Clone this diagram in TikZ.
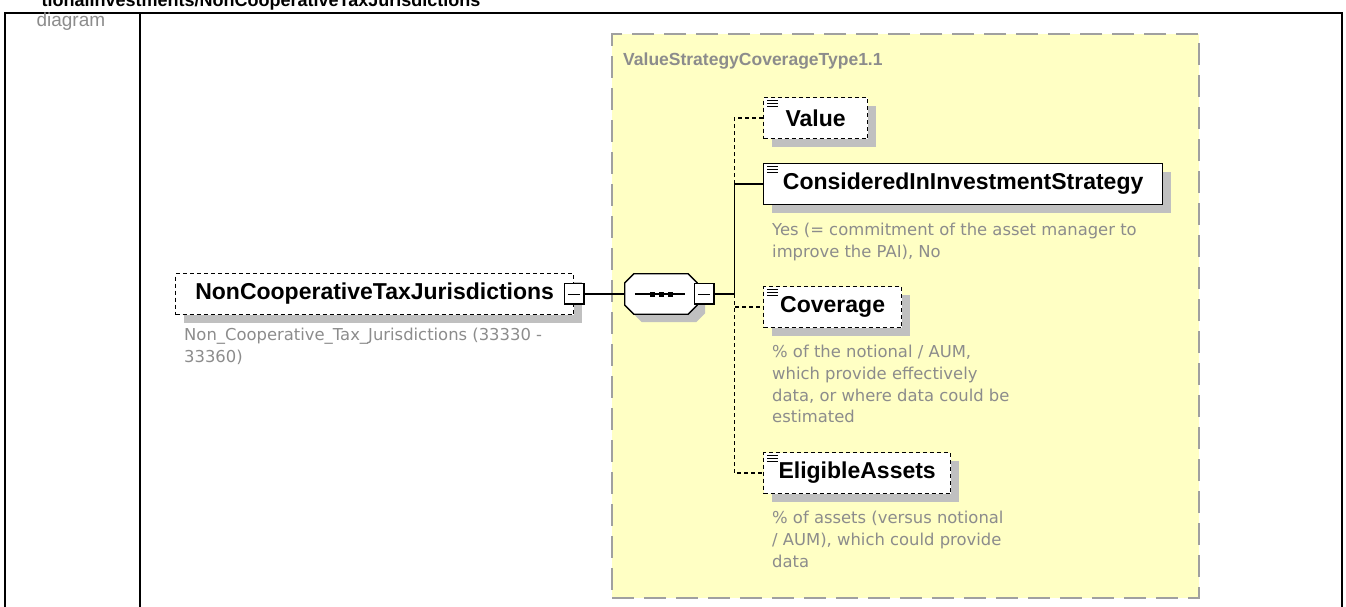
\documentclass[tikz,border=0pt]{standalone}
\usepackage{fontspec}
\setmainfont{Liberation Sans}
\newfontfamily\descfont{DejaVu Sans}
\usetikzlibrary{shadows,calc}

\definecolor{typeyellow}{RGB}{255,255,196}
\definecolor{typeborder}{RGB}{160,160,160}
\definecolor{shadowgray}{RGB}{192,192,192}
\definecolor{notegray}{RGB}{140,140,140}

% octagon of the sequence compositor, #2 = offset (for the shadow)
\newcommand{\octpath}[2]{($(#1.north west)+(0,9)+(#2)$) -- ($(#1.north west)+(9,0)+(#2)$)
  -- ($(#1.north east)+(-9,0)+(#2)$) -- ($(#1.north east)+(0,9)+(#2)$)
  -- ($(#1.south east)+(0,-9)+(#2)$) -- ($(#1.south east)+(-9,0)+(#2)$)
  -- ($(#1.south west)+(9,0)+(#2)$) -- ($(#1.south west)+(0,-9)+(#2)$) -- cycle}

\begin{document}
\begin{tikzpicture}[x=1pt,y=-1pt,
elem/.style={
rectangle,draw,fill=white,line width=1.3pt,
anchor=west,inner xsep=0pt,
minimum height=41pt,
font=\fontsize{23}{27}\selectfont\bfseries,
drop shadow={shadow xshift=8pt,shadow yshift=-8pt,fill=shadowgray,opacity=1}
},
optional/.style={dash pattern=on 4pt off 3pt},
desc/.style={
anchor=north west,align=left,inner sep=0pt,
text=notegray,
font=\descfont\fontsize{16.4}{21.7}\selectfont
},
btn/.style={
rectangle,draw,fill=white,line width=1pt,
inner sep=0pt,minimum width=20pt,minimum height=21pt
},
seqbox/.style={rectangle,inner sep=0pt,minimum width=72pt,minimum height=40pt},
conn/.style={line width=1.3pt},
optconn/.style={conn,dash pattern=on 4pt off 3pt}
]
\useasboundingbox (0,0) rectangle (1346,606);

% =======================
% TABLE FRAME
% =======================

\node[anchor=base west,font=\fontsize{18}{22}\selectfont\bfseries] (title) at (38,6)
{tionalInvestments/NonCooperativeTaxJurisdictions};

\draw[line width=2pt] (5,13) rectangle (1342,640);
\draw[line width=2pt] (140,13) -- (140,640);

\node[anchor=base west,text=notegray,font=\fontsize{19}{23}\selectfont] (diaglabel) at (33,26) {diagram};

% =======================
% COMPLEX TYPE
% =======================

\node[anchor=north west,draw=typeborder,fill=typeyellow,line width=2pt,
dash pattern=on 22pt off 10pt,minimum width=587pt,minimum height=564pt] (typebox) at (611,33) {};

\node[anchor=west,inner sep=0pt,text=notegray,font=\fontsize{17.5}{21}\selectfont\bfseries] (typename) at (623,61)
{ValueStrategyCoverageType1.1};

% =======================
% ROOT ELEMENT
% =======================

\node[elem,optional,minimum width=398pt] (root) at (175,294) {NonCooperativeTaxJurisdictions};
\node[btn] (rootbtn) at (root.east) {};

\node[desc] (rootdesc) at (184,328)
{Non\_Cooperative\_Tax\_Jurisdictions (33330 -\\33360)};

% =======================
% SEQUENCE
% =======================

\node[seqbox] (seq) at (661,294) {};
\fill[shadowgray] \octpath{seq}{8,8};
\draw[fill=white,line width=1.3pt] \octpath{seq}{0,0};
\draw[line width=1.3pt] ($(seq.west)+(10,0)$) -- ($(seq.east)+(-12,0)$);
\foreach \d in {-9,0,9}
\fill ($(seq.center)+(\d-2.5,-2.5)$) rectangle +(5,5);

\node[btn,anchor=west] (seqbtn) at ($(seq.east)+(-3,0)$) {};
\coordinate (fork) at ($(seqbtn.east)+(19,0)$);

\foreach \b in {rootbtn,seqbtn} {
\draw[line width=1pt] ($(\b.west)+(4,0)$) -- ($(\b.east)+(-5,0)$);
\draw[line width=2.5pt] ($(\b.north east)+(-1,0)$) -- ($(\b.south east)+(-1,-1)$) -- ($(\b.south west)+(0,-1)$);
}

% =======================
% CHILD ELEMENTS
% =======================

\node[elem,optional,minimum width=104pt] (value) at (763,118) {Value};

\node[elem,minimum width=399pt] (considered) at (763,184) {ConsideredInInvestmentStrategy};
\node[desc] (considereddesc) at (772,223)
{Yes (= commitment of the asset manager to\\improve the PAI), No};

\node[elem,optional,minimum width=138pt] (coverage) at (763,307) {Coverage};
\node[desc] (coveragedesc) at (772,345)
{\% of the notional / AUM,\\which provide effectively\\data, or where data could be\\estimated};

\node[elem,optional,minimum width=187pt] (eligible) at (763,473) {EligibleAssets};
\node[desc] (eligibledesc) at (772,511)
{\% of assets (versus notional\\/ AUM), which could provide\\data};

% list icons
\foreach \n in {value,considered,coverage,eligible}
\foreach \k in {0,1,2}
\draw[line width=1pt] ($(\n.north west)+(4,4+3*\k)$) -- +(11,0);

% =======================
% CONNECTORS
% =======================

\draw[conn] (rootbtn.east) -- (seq.west);
\draw[conn] (seqbtn.east) -- (fork);
\draw[conn] (fork) |- (considered.west);
\draw[optconn] (considered.west -| fork) |- (value.west);
\draw[optconn] (fork) |- (coverage.west);
\draw[optconn] (fork) |- (eligible.west);

\end{tikzpicture}
\end{document}
